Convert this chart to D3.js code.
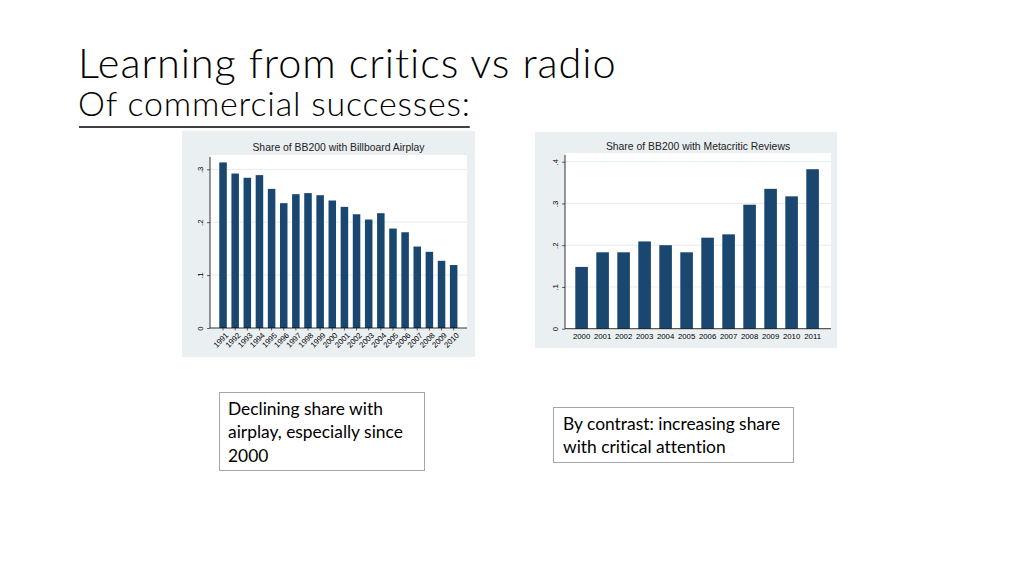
<!DOCTYPE html>
<html>
<head>
<meta charset="utf-8">
<script src="https://cdn.jsdelivr.net/npm/d3@7"></script>
<style>
  body { margin: 0; background: #fff; }
  svg { display: block; }
  text { font-variant-ligatures: none; }
</style>
</head>
<body>
<svg width="1024" height="576"></svg>
<script>
// airplay chart
const airYears = ["1991","1992","1993","1994","1995","1996","1997","1998","1999","2000",
  "2001","2002","2003","2004","2005","2006","2007","2008","2009","2010"];
const airShare = [0.313, 0.292, 0.284, 0.289, 0.263, 0.236, 0.253, 0.255, 0.251, 0.241,
  0.229, 0.215, 0.205, 0.217, 0.188, 0.181, 0.154, 0.144, 0.127, 0.119];
const airTicks = [0, 0.1, 0.2, 0.3];

// metacritic chart
const metaYears = ["2000","2001","2002","2003","2004","2005","2006","2007","2008","2009","2010","2011"];
const metaShare = [0.148, 0.183, 0.183, 0.209, 0.200, 0.183, 0.218, 0.226, 0.297, 0.335, 0.317, 0.382];
const metaTicks = [0, 0.1, 0.2, 0.3, 0.4];

const barColor = "#1a476f";
const panelColor = "#eaeff2";
const gridColor = "#e6ecef";

function drawChart() {
  const svg = d3.select("svg");

  // slide headings
  svg.append("text")
    .attr("x", 78)
    .attr("y", 77.5)
    .attr("font-family", "Lato")
    .attr("font-weight", 300)
    .attr("font-size", 41.5)
    .attr("letter-spacing", 0.9)
    .attr("fill", "#000")
    .text("Learning from critics vs radio");

  const sub = svg.append("text")
    .attr("x", 78)
    .attr("y", 116)
    .attr("font-family", "Lato")
    .attr("font-weight", 300)
    .attr("font-size", 34)
    .attr("letter-spacing", 0.8)
    .attr("fill", "#000")
    .text("Of commercial successes:");
  const subW = sub.node().getComputedTextLength();
  svg.append("line")
    .attr("x1", 79).attr("x2", 78 + subW - 1)
    .attr("y1", 127).attr("y2", 127)
    .attr("stroke", "#000").attr("stroke-width", 1.6);

  // left panel: airplay
  const left = { x0: 182, y0: 131, x1: 475, y1: 357, px0: 210, px1: 467, py0: 155, py1: 328 };
  panel(svg, left, "Share of BB200 with Billboard Airplay", 151);

  const xa = d3.scaleBand().domain(airYears).range([213.2, 463.5]).paddingInner(0.38).paddingOuter(0.5);
  const ya = d3.scaleLinear().domain([0, 0.3]).range([left.py1, left.py1 - 0.3 * 529]);

  grid(svg, ya, airTicks, left);

  svg.append("g").selectAll("rect")
    .data(airShare)
    .join("rect")
    .attr("x", (d, i) => xa(airYears[i]))
    .attr("width", xa.bandwidth())
    .attr("y", d => ya(d))
    .attr("height", d => ya(0) - ya(d))
    .attr("fill", barColor);

  yAxis(svg, ya, airTicks, left);

  const gxa = svg.append("g")
    .attr("transform", `translate(0,${left.py1})`)
    .call(d3.axisBottom(xa).tickSize(2.5).tickSizeOuter(0));
  gxa.select(".domain").attr("stroke", "#000").attr("stroke-width", 0.8)
    .attr("d", `M${left.px0},0H${left.px1}`);
  gxa.selectAll(".tick line").attr("stroke", "#000").attr("stroke-width", 0.6);
  gxa.selectAll(".tick text")
    .attr("font-family", "Liberation Sans")
    .attr("font-size", 7.8)
    .attr("fill", "#000")
    .attr("text-anchor", "end")
    .attr("dy", 0)
    .attr("transform", "translate(2,4) rotate(-45)");

  // right panel: metacritic
  const right = { x0: 535, y0: 132, x1: 837, y1: 348, px0: 565, px1: 831, py0: 153, py1: 328.7 };
  panel(svg, right, "Share of BB200 with Metacritic Reviews", 150);

  const xm = d3.scaleBand().domain(metaYears).range([564.8, 829.4]).paddingInner(0.4).paddingOuter(0.5);
  const ym = d3.scaleLinear().domain([0, 0.4]).range([right.py1, right.py1 - 0.4 * 417.5]);

  grid(svg, ym, metaTicks, right);

  svg.append("g").selectAll("rect")
    .data(metaShare)
    .join("rect")
    .attr("x", (d, i) => xm(metaYears[i]))
    .attr("width", xm.bandwidth())
    .attr("y", d => ym(d))
    .attr("height", d => ym(0) - ym(d))
    .attr("fill", barColor);

  yAxis(svg, ym, metaTicks, right);

  const gxm = svg.append("g")
    .attr("transform", `translate(0,${right.py1})`)
    .call(d3.axisBottom(xm).tickSize(0).tickSizeOuter(0));
  gxm.select(".domain").attr("stroke", "#000").attr("stroke-width", 0.8)
    .attr("d", `M${right.px0},0H${right.px1}`);
  gxm.selectAll(".tick text")
    .attr("font-family", "Liberation Sans")
    .attr("font-size", 7.8)
    .attr("fill", "#000")
    .attr("dy", 0)
    .attr("y", 10.5);

  // note boxes
  note(svg, 219.5, 392.5, 205, 78, 228,
    ["Declining share with", "airplay, especially since", "2000"], 415);
  note(svg, 553.5, 407.5, 240, 55, 563,
    ["By contrast: increasing share", "with critical attention"], 430);
}

function panel(svg, p, title, ty) {
  svg.append("rect")
    .attr("x", p.x0).attr("y", p.y0)
    .attr("width", p.x1 - p.x0).attr("height", p.y1 - p.y0)
    .attr("fill", panelColor);
  svg.append("rect")
    .attr("x", p.px0).attr("y", p.py0)
    .attr("width", p.px1 - p.px0).attr("height", p.py1 - p.py0)
    .attr("fill", "#fff");
  svg.append("text")
    .attr("x", (p.px0 + p.px1) / 2)
    .attr("y", ty)
    .attr("text-anchor", "middle")
    .attr("font-family", "Liberation Sans")
    .attr("font-size", 10.4)
    .attr("fill", "#222")
    .text(title);
}

function grid(svg, y, ticks, p) {
  svg.append("g").selectAll("line")
    .data(ticks.filter(d => d > 0))
    .join("line")
    .attr("x1", p.px0).attr("x2", p.px1)
    .attr("y1", d => y(d)).attr("y2", d => y(d))
    .attr("stroke", gridColor)
    .attr("stroke-width", 1);
}

function yAxis(svg, y, ticks, p) {
  const g = svg.append("g")
    .attr("transform", `translate(${p.px0},0)`)
    .call(d3.axisLeft(y).tickValues(ticks).tickSize(3).tickSizeOuter(0)
      .tickFormat(d => d === 0 ? "0" : d3.format(".1f")(d).replace(/^0/, "")));
  g.select(".domain").attr("stroke", "#000").attr("stroke-width", 0.8)
    .attr("d", `M0,${p.py1}V${p.py0 + 2}`);
  g.selectAll(".tick line").attr("stroke", "#000").attr("stroke-width", 0.6);
  g.selectAll(".tick text")
    .attr("font-family", "Liberation Sans")
    .attr("font-size", 7.8)
    .attr("fill", "#000")
    .attr("x", 0).attr("dy", 0)
    .attr("text-anchor", "middle")
    .attr("transform", "translate(-7,0) rotate(-90)");
}

function note(svg, x, y, w, h, tx, lines, by) {
  svg.append("rect")
    .attr("x", x).attr("y", y)
    .attr("width", w).attr("height", h)
    .attr("fill", "#fff")
    .attr("stroke", "#a6a6a6")
    .attr("stroke-width", 1);
  svg.append("g").selectAll("text")
    .data(lines)
    .join("text")
    .attr("x", tx)
    .attr("y", (d, i) => by + i * 23.3)
    .attr("font-family", "Lato")
    .attr("font-size", 17.4)
    .attr("fill", "#000")
    .text(d => d);
}

window.onload = drawChart;
</script>
</body>
</html>
